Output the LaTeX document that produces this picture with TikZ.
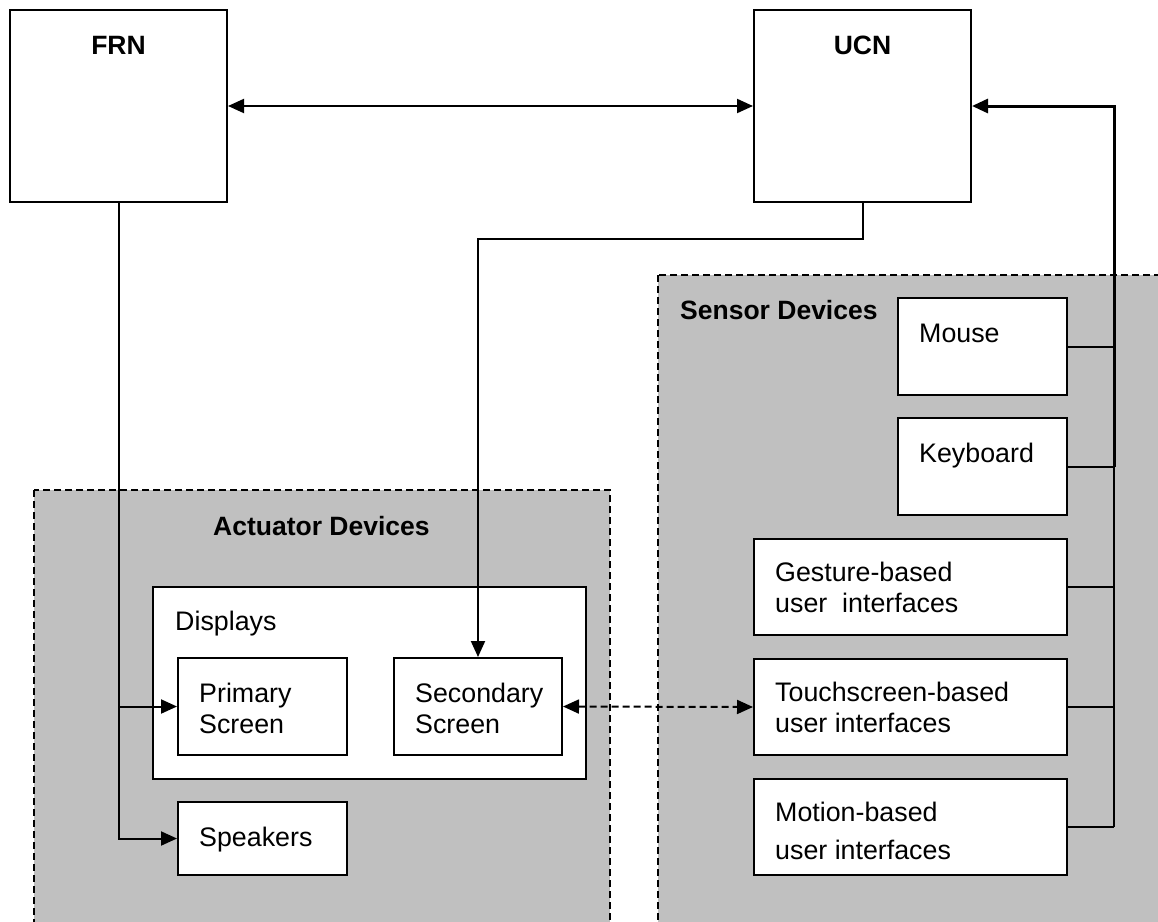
\documentclass[tikz,border=0pt]{standalone}
\usepackage{fontspec}
\setmainfont{Liberation Sans}
\usetikzlibrary{arrows.meta}
\definecolor{panelgray}{HTML}{C0C0C0}
\begin{document}
\begin{tikzpicture}[x=1pt,y=-1pt,
  every node/.style={font=\fontsize{26.8}{31}\selectfont},
  box/.style={draw, fill=white, line width=2pt, inner sep=0pt},
  panel/.style={draw, fill=panelgray, line width=1.6pt, dash pattern=on 7pt off 4pt},
  txt/.style={anchor=base west, inner sep=0pt},
  head/.style={anchor=base, inner sep=0pt, font=\fontsize{26.5}{31}\selectfont\bfseries},
  wire/.style={line width=2pt},
  buswire/.style={line width=3pt},
  tip/.style={-{Triangle[length=16pt,width=14pt]}},
  tips/.style={{Triangle[length=16pt,width=14pt]}-{Triangle[length=16pt,width=14pt]}}]
\useasboundingbox (0,0) rectangle (1158,921);
\clip (0,0) rectangle (1158,921);

% device panels
\path[panel] (658,275) rectangle (1180,945);
\path[panel] (34,490) rectangle (610,945);

% network nodes
\node[box, minimum width=217pt, minimum height=192pt] (frn) at (118.5,106) {};
\node[box, minimum width=217pt, minimum height=192pt] (ucn) at (862.5,106) {};

% actuator devices
\node[box, minimum width=433pt, minimum height=192pt] (disp) at (369.5,683) {};
\node[box, minimum width=169pt, minimum height=97pt] (prim) at (262.5,706.5) {};
\node[box, minimum width=168pt, minimum height=97pt] (sec) at (478,706.5) {};
\node[box, minimum width=169pt, minimum height=73pt] (spk) at (262.5,838.5) {};

% sensor devices
\node[box, minimum width=169pt, minimum height=97pt] (mouse) at (982.5,346.5) {};
\node[box, minimum width=169pt, minimum height=97pt] (kbd) at (982.5,466.5) {};
\node[box, minimum width=313pt, minimum height=96pt] (gest) at (910.5,587) {};
\node[box, minimum width=313pt, minimum height=96pt] (touch) at (910.5,707) {};
\node[box, minimum width=313pt, minimum height=96pt] (motion) at (910.5,827) {};

% junction points
\coordinate (bustop) at (1114,106);
\coordinate (busmid) at (1114,466.5);
\coordinate (busbot) at (1114,827);
\coordinate (frnbot) at (118.5,838.5);
\coordinate (ucnbend) at (862.5,239);

% FRN <-> UCN
\draw[wire, tips] (frn.east) -- (ucn.west);

% sensor bus into UCN
\draw[buswire, tip] (busmid) -- (bustop) -- (ucn.east);
\draw[wire] (busmid) -- (busbot);
\foreach \n in {mouse,kbd,gest,touch,motion}
  \draw[wire] (\n.east) -- (\n.east -| bustop);

% FRN to primary screen and speakers
\draw[wire, tip] (frn.south) -- (frnbot) -- (spk.west);
\draw[wire, tip] (prim.west -| frn.south) -- (prim.west);

% UCN to secondary screen
\draw[wire, tip] (ucn.south) -- (ucnbend) -- (ucnbend -| sec.north) -- (sec.north);

% secondary screen <-> touchscreen
\draw[wire, tips, dash pattern=on 7pt off 4pt] (sec.east) -- (touch.west);

% labels
\node[head] (frn-t) at (118.5,54) {FRN};
\node[head] (ucn-t) at (862.5,54) {UCN};
\node[head, anchor=base west] (sens-t) at (680,319) {Sensor Devices};
\node[head, anchor=base west] (act-t) at (213,535) {Actuator Devices};
\node[txt] (disp-t) at (175,630) {Displays};
\node[txt] (prim-t1) at (199,702) {Primary};
\node[txt] (prim-t2) at (199,733) {Screen};
\node[txt] (sec-t1) at (415,702) {Secondary};
\node[txt] (sec-t2) at (415,733) {Screen};
\node[txt] (spk-t) at (199,846) {Speakers};
\node[txt] (mouse-t) at (919,342) {Mouse};
\node[txt] (kbd-t) at (919,462) {Keyboard};
\node[txt] (gest-t1) at (775,581) {Gesture-based};
\node[txt] (gest-t2) at (775,612) {user~~interfaces};
\node[txt] (touch-t1) at (775,701) {Touchscreen-based};
\node[txt] (touch-t2) at (775,732) {user interfaces};
\node[txt] (motion-t1) at (775,821) {Motion-based};
\node[txt] (motion-t2) at (775,859) {user interfaces};
\end{tikzpicture}
\end{document}
